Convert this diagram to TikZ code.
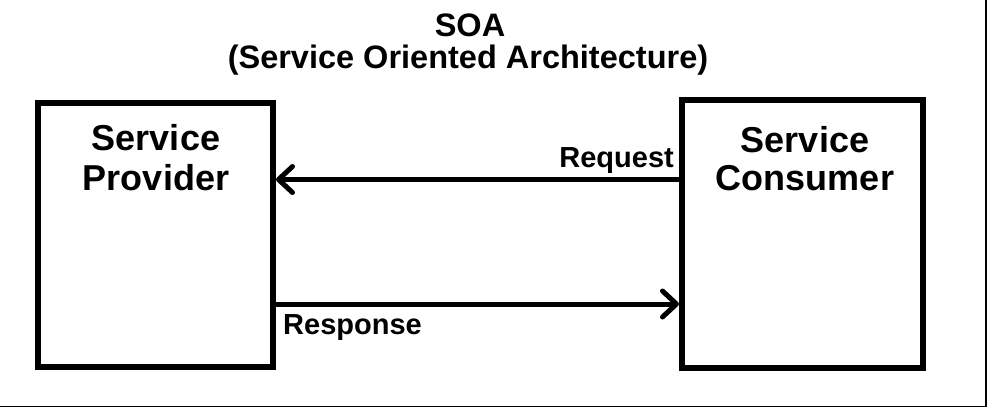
\documentclass[tikz,border=0pt]{standalone}
\usepackage{fontspec}
\setmainfont{Liberation Sans}
\usetikzlibrary{arrows.meta}
\begin{document}
\begin{tikzpicture}[x=1pt,y=-1pt,
  box/.style={draw,line width=6pt,rectangle,inner sep=0pt},
  boxtext/.style={anchor=base,inner sep=0pt,font=\fontsize{36}{40}\selectfont\bfseries},
  titletext/.style={anchor=base,inner sep=0pt,font=\fontsize{32.5}{36}\selectfont\bfseries},
  lbl/.style={inner sep=0pt,font=\fontsize{29}{32}\selectfont\bfseries},
  arr/.style={line width=5pt,-{Straight Barb[length=14pt,width=26pt,round]}},
  frame/.style={line width=1.5pt}]
\useasboundingbox (0,0) rectangle (988,408);
% frame (right and bottom edges only)
\coordinate (ftr) at (986,0);
\coordinate (fbr) at (986,406.5);
\coordinate (fbl) at (0,406.5);
\draw[frame] (ftr) -- (fbr) -- (fbl);
% title
\node[titletext] (t1) at (470,36) {SOA};
\node[titletext] (t2) at (468,68) {(Service Oriented Architecture)};
% boxes
\node[box,minimum width=235pt,minimum height=264pt] (prov) at (155.5,235) {};
\node[box,minimum width=241pt,minimum height=268pt] (cons) at (802.5,234) {};
\node[boxtext] (provA) at (156,150) {Service};
\node[boxtext] (provB) at (156,190) {Provider};
\node[boxtext] (consA) at (805,152) {Service};
\node[boxtext] (consB) at (805,190) {Consumer};
% arrows
\coordinate (reqy) at (0,179.5);
\coordinate (resy) at (0,304);
\draw[arr] (cons.west |- reqy) -- (prov.east |- reqy);
\draw[arr] (prov.east |- resy) -- (cons.west |- resy);
\node[lbl,anchor=base east] (req) at (674,167) {Request};
\node[lbl,anchor=base west] (res) at (283,334) {Response};
\end{tikzpicture}
\end{document}
